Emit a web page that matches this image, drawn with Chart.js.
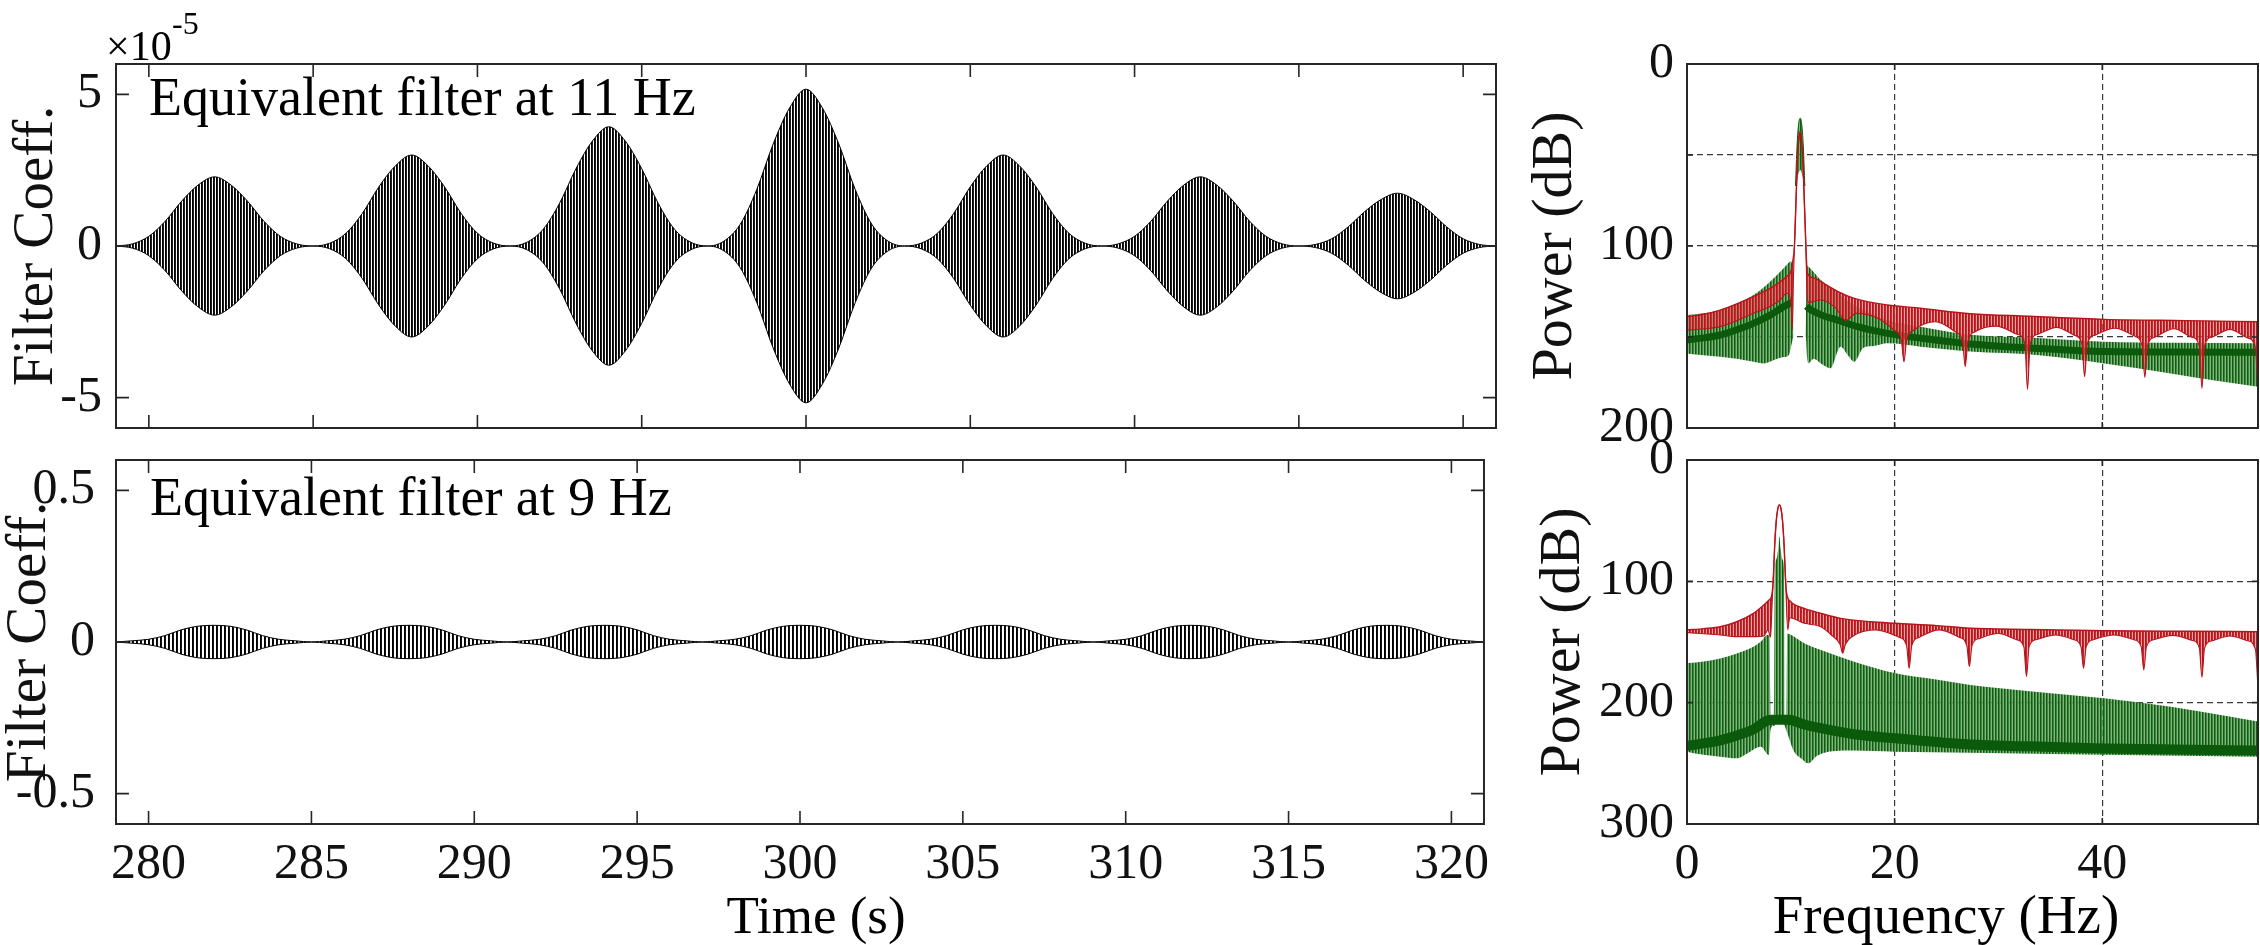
<!DOCTYPE html>
<html>
<head>
<meta charset="utf-8">
<script src="https://cdn.jsdelivr.net/npm/chart.js@4.4.1/dist/chart.umd.min.js"></script>
<style>
  html, body { margin:0; padding:0; background:#fff; }
  body { width:2260px; height:945px; position:relative; overflow:hidden; }
  canvas { position:absolute; }
</style>
</head>
<body>
<canvas id="cTL" width="1500" height="480" style="left:0px;top:0px"></canvas>
<canvas id="cTR" width="760" height="480" style="left:1500px;top:0px"></canvas>
<canvas id="cBL" width="1500" height="560" style="left:0px;top:400px"></canvas>
<canvas id="cBR" width="760" height="560" style="left:1500px;top:400px"></canvas>
<script>
// ---------------- DATA ----------------
// Time axis (s) for the envelope samples of the equivalent filters
const timeS = [279,279.5,280,280.5,281,281.5,282,282.5,283,283.5,284,284.5,
  285,285.5,286,286.5,287,287.5,288,288.5,289,289.5,290,290.5,
  291,291.5,292,292.5,293,293.5,294,294.5,295,295.5,296,296.5,
  297,297.5,298,298.5,299,299.5,300,300.5,301,301.5,302,302.5,
  303,303.5,304,304.5,305,305.5,306,306.5,307,307.5,308,308.5,
  309,309.5,310,310.5,311,311.5,312,312.5,313,313.5,314,314.5,
  315,315.5,316,316.5,317,317.5,318,318.5,319,319.5,320,320.5,321];
// Envelope of the 11 Hz equivalent filter (units of 1e-5)
const coef11Env = [0,0.07,0.32,0.82,1.48,2.01,2.28,2.01,1.48,0.82,0.32,0.07,
  0,0.09,0.42,1.08,1.95,2.64,3.00,2.64,1.95,1.08,0.42,0.09,
  0,0.12,0.55,1.41,2.55,3.46,3.93,3.46,2.55,1.41,0.55,0.12,
  0,0.16,0.72,1.86,3.36,4.55,5.17,4.55,3.36,1.86,0.72,0.16,
  0,0.09,0.42,1.08,1.95,2.64,3.00,2.64,1.95,1.08,0.42,0.09,
  0,0.07,0.32,0.82,1.48,2.01,2.28,2.01,1.48,0.82,0.32,0.07,
  0,0.05,0.24,0.63,1.13,1.53,1.74,1.53,1.13,0.63,0.24,0.05,0];
// Envelope of the 9 Hz equivalent filter
const coef9Env = [0,0.004,0.009,0.021,0.040,0.052,0.055,0.052,0.040,0.021,0.009,0.004,
  0,0.004,0.009,0.021,0.040,0.052,0.055,0.052,0.040,0.021,0.009,0.004,
  0,0.004,0.009,0.021,0.040,0.052,0.055,0.052,0.040,0.021,0.009,0.004,
  0,0.004,0.009,0.021,0.040,0.052,0.055,0.052,0.040,0.021,0.009,0.004,
  0,0.004,0.009,0.021,0.040,0.052,0.055,0.052,0.040,0.021,0.009,0.004,
  0,0.004,0.009,0.021,0.040,0.052,0.055,0.052,0.040,0.021,0.009,0.004,
  0,0.004,0.009,0.021,0.040,0.052,0.055,0.052,0.040,0.021,0.009,0.004,0];
const timeTicks = [280,285,290,295,300,305,310,315,320];
const coefTicks11 = [-5,0,5];
const coefTicks9 = [-0.5,0,0.5];
const freqTicks = [0,20,40];
const dbTicksTop = [0,50,100,150,200];
const dbTicksBot = [0,100,200,300];

// 11 Hz spectrum: [Hz, dB]
const red11Upper = [[0,138.8],[1.6,137.5],[3.2,135.2],[4.8,131.8],[6.4,127.8],[8.0,123.3],[9.0,119.5],[9.6,116.8],[10.0,114],[10.2,108],[10.35,100],[10.5,75],[10.65,52],[10.8,40],[10.9,37.2],[11.0,40],[11.15,52],[11.3,75],[11.45,100],[11.6,115],[12.2,117.5],[12.9,119.6],[14.5,125],[16.1,128.8],[19.3,132.4],[22.5,134.2],[27.3,137.2],[33,138.6],[40.2,140.3],[48,141],[55,141.6]];
const red11Lower = [[0,146.2],[1.6,145.5],[3.2,144.3],[4.8,141],[6.4,137],[8.0,133.3],[9.0,129.5],[9.6,126],[10.0,130],[10.15,146],[10.25,118],[10.35,100],[10.5,75],[10.65,52],[10.8,40],[10.9,37.2],[11.0,40],[11.15,52],[11.3,75],[11.45,100],[11.55,124],[11.7,131],[12.9,129.7],[14.3,134],[15.3,141],[16.3,137],[18.1,139],[19.9,146],[20.65,152],[20.9,163.6],[21.15,152],[21.9,146],[23.9,141.6],[25.8,147],[26.55,153],[26.8,166.3],[27.05,153],[27.8,147],[29.8,144],[31.8,148.5],[32.55,154],[32.8,178.8],[33.05,154],[33.8,148.5],[35.6,144.7],[37.3,149],[38.05,154],[38.3,171.8],[38.55,154],[39.3,149],[41.2,145.2],[43.1,149.5],[43.85,155],[44.1,172.2],[44.35,155],[45.1,150],[46.9,145.5],[48.6,150],[49.35,155],[49.6,178.2],[49.85,155],[50.6,150],[52.3,145.8],[54.0,150.5],[54.75,156],[55,181]];
const grn11Upper = [[0,137.9],[1.6,137],[3.2,135.2],[4.8,131.5],[6.4,126.9],[8.0,119.6],[9.0,114],[9.6,110.4],[10.0,108.5],[10.15,112],[10.25,150],[11.45,150],[11.55,111],[12.0,113],[12.9,118.7],[14.5,126],[16.1,132.4],[17.7,137],[19.3,140.7],[22.5,144.3],[27.3,148.7],[33.7,150.5],[40.2,152.6],[47,153.2],[55,153.5]];
const grn11Lower = [[0,159],[1.6,160],[3.2,160.8],[4.8,162],[6.4,163.6],[7.4,164.5],[8.7,162],[9.3,161],[9.8,160],[10.15,152],[10.25,150],[11.45,150],[11.55,160],[11.7,164.5],[12.2,162],[13.0,165],[13.8,167.2],[14.8,155.3],[15.5,160],[16.1,163.6],[17.0,155.9],[18.0,155],[19.3,153.5],[22.5,155.3],[27.3,158],[33.7,159.9],[40.2,164.5],[46.6,170],[51.0,174],[55,177.3]];
const grn11PeakUpper = [[10.45,67],[10.6,45],[10.75,33],[10.9,29.8],[11.05,33],[11.2,45],[11.35,67]];
const grn11PeakLower = [[10.45,67],[10.6,62],[10.9,58],[11.2,62],[11.35,67]];
const grn11Core = [[0,151.6],[1.6,150.5],[3.2,148.9],[4.8,146],[6.4,142.5],[8.0,138],[9.3,133.3],[10.1,131],[10.7,null],[11.5,133],[11.9,135],[13,138],[14.5,140.7],[16.5,144.5],[19.3,148],[23,151],[27.3,153.8],[33,156],[40.2,158],[47,158.2],[55,158.4]];

// 9 Hz spectrum: [Hz, dB]
const red9Upper = [[0,140.1],[1.6,139],[3.2,137.4],[4.8,133.3],[6.4,126.4],[7.4,119.5],[7.9,115.4],[8.15,112],[8.3,100],[8.45,70],[8.6,50],[8.75,40],[8.9,37.1],[9.05,40],[9.2,50],[9.35,70],[9.5,100],[9.6,109.9],[10.0,116.8],[11.3,122.3],[12.9,126.4],[14.8,130.5],[17.7,133.3],[20.1,134.6],[24.1,136.5],[27.3,138.7],[33,139.7],[40.2,140.7],[48,141.2],[55,141.5]];
const red9Lower = [[0,142.3],[1.6,143.2],[3.2,144.2],[4.8,145.6],[6.4,145.6],[7.4,145],[7.8,140],[8.05,146],[8.2,118],[8.3,100],[8.45,70],[8.6,50],[8.75,40],[8.9,37.1],[9.05,40],[9.2,50],[9.35,70],[9.5,100],[9.7,140],[9.9,130],[11.3,134.6],[12.9,137.4],[14.0,145],[14.75,152],[15.0,159.3],[15.25,152],[16.0,145],[18.2,140],[20.4,146],[21.15,153],[21.4,171.7],[21.65,153],[22.4,146],[24.3,140],[26.2,146],[26.95,153],[27.2,170.3],[27.45,153],[28.2,147],[30.0,143],[31.7,148],[32.45,154],[32.7,178.6],[32.95,154],[33.7,148],[35.5,144.2],[37.2,148],[37.95,154],[38.2,171.7],[38.45,154],[39.2,148],[41.1,144.2],[43.0,148],[43.75,154],[44.0,173],[44.25,154],[45.0,148],[46.8,144.5],[48.6,148.5],[49.35,155],[49.6,179.1],[49.85,155],[50.6,149],[52.3,145],[54.0,149],[54.75,156],[55,188.2]];
const grn9Upper = [[0,167.6],[1.6,166],[3.2,163.5],[4.8,159.5],[6.4,153.9],[7.2,149],[7.7,144.2],[7.95,145],[8.05,216],[8.38,216],[8.45,92],[8.6,82],[8.8,72],[8.9,63],[9.0,72],[9.2,82],[9.35,92],[9.42,216],[9.6,216],[9.65,143],[10.0,144],[11.3,151.1],[12.9,156.6],[16.1,166.2],[20.1,175.8],[24,181],[27.3,185.4],[33,190.5],[40.2,196.4],[46.6,203.3],[51.4,210.1],[55,215.6]];
const grn9Lower = [[0,240.4],[1.6,243],[3.2,244.5],[4.8,245.9],[5.8,241.8],[7.1,236.3],[7.9,243.1],[8.05,222],[8.4,219],[8.9,216],[9.4,219],[9.7,226],[10.3,240],[11.0,246],[11.7,250],[12.5,244],[14,240],[16,239.5],[20,240.4],[27.3,241.2],[40,243],[55,244.5]];
const grn9Core = [[0,235.5],[1.6,233.5],[3.2,231],[4.8,227],[6.4,222],[7.7,214.8],[8.2,214],[9.6,214],[10,214.3],[11.3,218],[12.9,221],[16.1,226],[20.1,229.4],[27.3,234.5],[33,236],[40.2,237.7],[47,238.6],[55,239.4]];

// ---------------- helpers ----------------
const SERIF = '"Liberation Serif", "DejaVu Serif", serif';
const INK = '#111';
const RED = '#b8141c';
const DKG = '#0b5a0b';
const GRIDC = '#3a3a3a';
Chart.defaults.font.family = SERIF;
Chart.defaults.color = INK;

function stripes(cols) {
  const c = document.createElement('canvas');
  c.width = cols.length; c.height = 8;
  const g = c.getContext('2d');
  cols.forEach((col, i) => { g.fillStyle = col; g.fillRect(i, 0, 1, 8); });
  return g.createPattern(c, 'repeat');
}
const xy = (xs, ys) => xs.map((x, i) => ({x: x, y: ys[i]}));
const pts = arr => arr.map(p => ({x: p[0], y: p[1]}));
const neg = arr => arr.map(v => -v);
const tickSet = vals => (s => { s.ticks = vals.map(v => ({value: v})); });

const framePlugin = {
  id: 'frame',
  afterDraw(chart, args, o) {
    const {ctx, chartArea: a} = chart;
    const sx = chart.scales.x, sy = chart.scales.y;
    ctx.save();
    ctx.strokeStyle = '#262626';
    ctx.lineWidth = 1.6;
    ctx.beginPath();
    sx.ticks.forEach(t => {
      const p = sx.getPixelForValue(t.value);
      ctx.moveTo(p, a.bottom); ctx.lineTo(p, a.bottom - o.tick);
      ctx.moveTo(p, a.top); ctx.lineTo(p, a.top + o.tick);
    });
    sy.ticks.forEach(t => {
      const p = sy.getPixelForValue(t.value);
      ctx.moveTo(a.left, p); ctx.lineTo(a.left + o.tick, p);
      ctx.moveTo(a.right, p); ctx.lineTo(a.right - o.tick, p);
    });
    ctx.stroke();
    ctx.lineWidth = 2;
    ctx.strokeRect(a.left, a.top, a.right - a.left, a.bottom - a.top);
    (o.texts || []).forEach(t => {
      ctx.font = t.size + 'px ' + SERIF;
      ctx.fillStyle = '#000';
      ctx.textAlign = t.align || 'left';
      ctx.textBaseline = 'alphabetic';
      ctx.fillText(t.text, t.x, t.y);
    });
    ctx.restore();
  }
};

function makeLeft(id, env, range, yTicks, fmt, pattern, cfg) {
  return new Chart(document.getElementById(id), {
    type: 'line',
    data: { datasets: [
      { data: xy(timeS, env), borderColor: '#000', borderWidth: 1, pointRadius: 0,
        fill: '+1', backgroundColor: pattern, cubicInterpolationMode: 'monotone', order: 1 },
      { data: xy(timeS, neg(env)), borderColor: '#000', borderWidth: 1, pointRadius: 0,
        fill: false, cubicInterpolationMode: 'monotone', order: 0 }
    ]},
    options: {
      responsive: false, animation: false, devicePixelRatio: 1,
      font: { family: SERIF },
      layout: { padding: { top: cfg.padTop, right: 4, left: 0, bottom: 0 } },
      plugins: { legend: { display: false }, tooltip: { enabled: false },
                 frame: { tick: 13, texts: cfg.texts } },
      scales: {
        x: { type: 'linear', min: 279, max: 321,
             afterBuildTicks: tickSet(timeTicks),
             afterFit: s => { s.height = cfg.xH; },
             grid: { display: false, drawTicks: false }, border: { display: false },
             ticks: { display: cfg.showX, padding: 11, autoSkip: false, maxRotation: 0,
                      font: { size: 50, family: SERIF }, color: INK } },
        y: { type: 'linear', min: range[0], max: range[1],
             afterBuildTicks: tickSet(yTicks),
             afterFit: s => { s.width = 116; },
             grid: { display: false, drawTicks: false }, border: { display: false },
             ticks: { padding: cfg.yPad, font: { size: 50, family: SERIF }, color: INK, callback: fmt },
             title: { display: true, text: 'Filter Coeff.', color: INK,
                      font: { size: 57, family: SERIF, lineHeight: 1 },
                      padding: { top: cfg.titlePad, bottom: 0 } } }
      }
    },
    plugins: [framePlugin]
  });
}

function makeRight(id, cfg) {
  const redPat = stripes(['#b8141c', '#c22a2e', 'rgba(222,100,100,0.6)']);
  const grnPat = stripes(['#0d5e0d', '#3f873f', 'rgba(100,160,100,0.8)']);
  const base = { pointRadius: 0, cubicInterpolationMode: 'monotone' };
  const ds = [
    Object.assign({ data: pts(cfg.redUpper), borderColor: RED, borderWidth: 1.4, fill: '+1', backgroundColor: redPat, order: 1 }, base),
    Object.assign({ data: pts(cfg.redLower), borderColor: RED, borderWidth: 1.1, fill: false, order: 0 }, base),
    Object.assign({ data: pts(cfg.grnUpper), borderColor: 'rgba(0,0,0,0)', borderWidth: 0, fill: '+1', backgroundColor: grnPat, order: 6 }, base),
    Object.assign({ data: pts(cfg.grnLower), borderColor: 'rgba(0,0,0,0)', borderWidth: 0, fill: false, order: 7 }, base),
    Object.assign({ data: pts(cfg.core), borderColor: DKG, borderWidth: cfg.coreW, fill: false, spanGaps: false, order: 3 }, base)
  ];
  if (cfg.peakUpper) {
    ds.push(Object.assign({ data: pts(cfg.peakUpper), borderColor: DKG, borderWidth: 1, fill: '+1', backgroundColor: grnPat, order: 4 }, base));
    ds.push(Object.assign({ data: pts(cfg.peakLower), borderColor: DKG, borderWidth: 0.8, fill: false, order: 5 }, base));
  }
  return new Chart(document.getElementById(id), {
    type: 'line',
    data: { datasets: ds },
    options: {
      responsive: false, animation: false, devicePixelRatio: 1,
      font: { family: SERIF },
      layout: { padding: { top: cfg.padTop, right: 2, left: 0, bottom: 0 } },
      plugins: { legend: { display: false }, tooltip: { enabled: false },
                 frame: { tick: 6, texts: cfg.texts } },
      scales: {
        x: { type: 'linear', min: 0, max: 55,
             afterBuildTicks: tickSet(freqTicks),
             afterFit: s => { s.height = cfg.xH; },
             grid: { drawTicks: false, lineWidth: 1.2,
                     color: c => (c.tick && c.tick.value > 0) ? GRIDC : 'rgba(0,0,0,0)' },
             border: { display: false, dash: [6, 4] },
             ticks: { display: cfg.showX, padding: 11, autoSkip: false, maxRotation: 0,
                      font: { size: 50, family: SERIF }, color: INK } },
        y: { type: 'linear', reverse: true, min: 0, max: cfg.yMax,
             afterBuildTicks: tickSet(cfg.yTicks),
             afterFit: s => { s.width = 187; },
             grid: { drawTicks: false, lineWidth: 1.2,
                     color: c => (c.tick && c.tick.value > 0 && c.tick.value < cfg.yMax) ? GRIDC : 'rgba(0,0,0,0)' },
             border: { display: false, dash: [6, 4] },
             ticks: { padding: 13, font: { size: 50, family: SERIF }, color: INK,
                      callback: v => (v % 100 === 0 ? String(v) : '') },
             title: { display: true, text: 'Power (dB)', color: INK,
                      font: { size: 58, family: SERIF, lineHeight: 1 },
                      padding: { top: cfg.titlePad, bottom: 0 } } }
      }
    },
    plugins: [framePlugin]
  });
}

const fmtSigned = v => (v < 0 ? '-' + String(Math.abs(v)) : String(v));

// top-left: chart area 116..1496 x 64..428
makeLeft('cTL', coef11Env, [-6, 6], coefTicks11, fmtSigned,
  stripes(['#000', '#1c1c1c', 'rgba(255,255,255,0.9)']),
  { padTop: 64, xH: 52, showX: false, yPad: 14, titlePad: 8.5,
    texts: [
      { text: 'Equivalent filter at 11 Hz', x: 149, y: 115, size: 54 },
      { text: '×10', x: 106, y: 60, size: 42 },
      { text: '-5', x: 172, y: 34, size: 32 }
    ] });

// bottom-left: canvas top 400, chart area 460..824
makeLeft('cBL', coef9Env, [-0.6, 0.6], coefTicks9, fmtSigned,
  stripes(['#000', '#111', 'rgba(255,255,255,0.6)', '#fff']),
  { padTop: 60, xH: 136, showX: true, yPad: 21, titlePad: 1.5,
    texts: [
      { text: 'Equivalent filter at 9 Hz', x: 150, y: 115, size: 54 },
      { text: 'Time (s)', x: 816, y: 533, size: 53, align: 'center' }
    ] });

makeRight('cTR', { redUpper: red11Upper, redLower: red11Lower, grnUpper: grn11Upper, grnLower: grn11Lower,
  core: grn11Core, coreW: 7, peakUpper: grn11PeakUpper, peakLower: grn11PeakLower,
  yMax: 200, yTicks: dbTicksTop, padTop: 64, xH: 52, showX: false, titlePad: 27, texts: [] });

makeRight('cBR', { redUpper: red9Upper, redLower: red9Lower, grnUpper: grn9Upper, grnLower: grn9Lower,
  core: grn9Core, coreW: 10, peakUpper: null, peakLower: null,
  yMax: 300, yTicks: dbTicksBot, padTop: 60, xH: 136, showX: true, titlePad: 35,
  texts: [ { text: 'Frequency (Hz)', x: 446, y: 533, size: 55, align: 'center' } ] });
</script>
</body>
</html>
